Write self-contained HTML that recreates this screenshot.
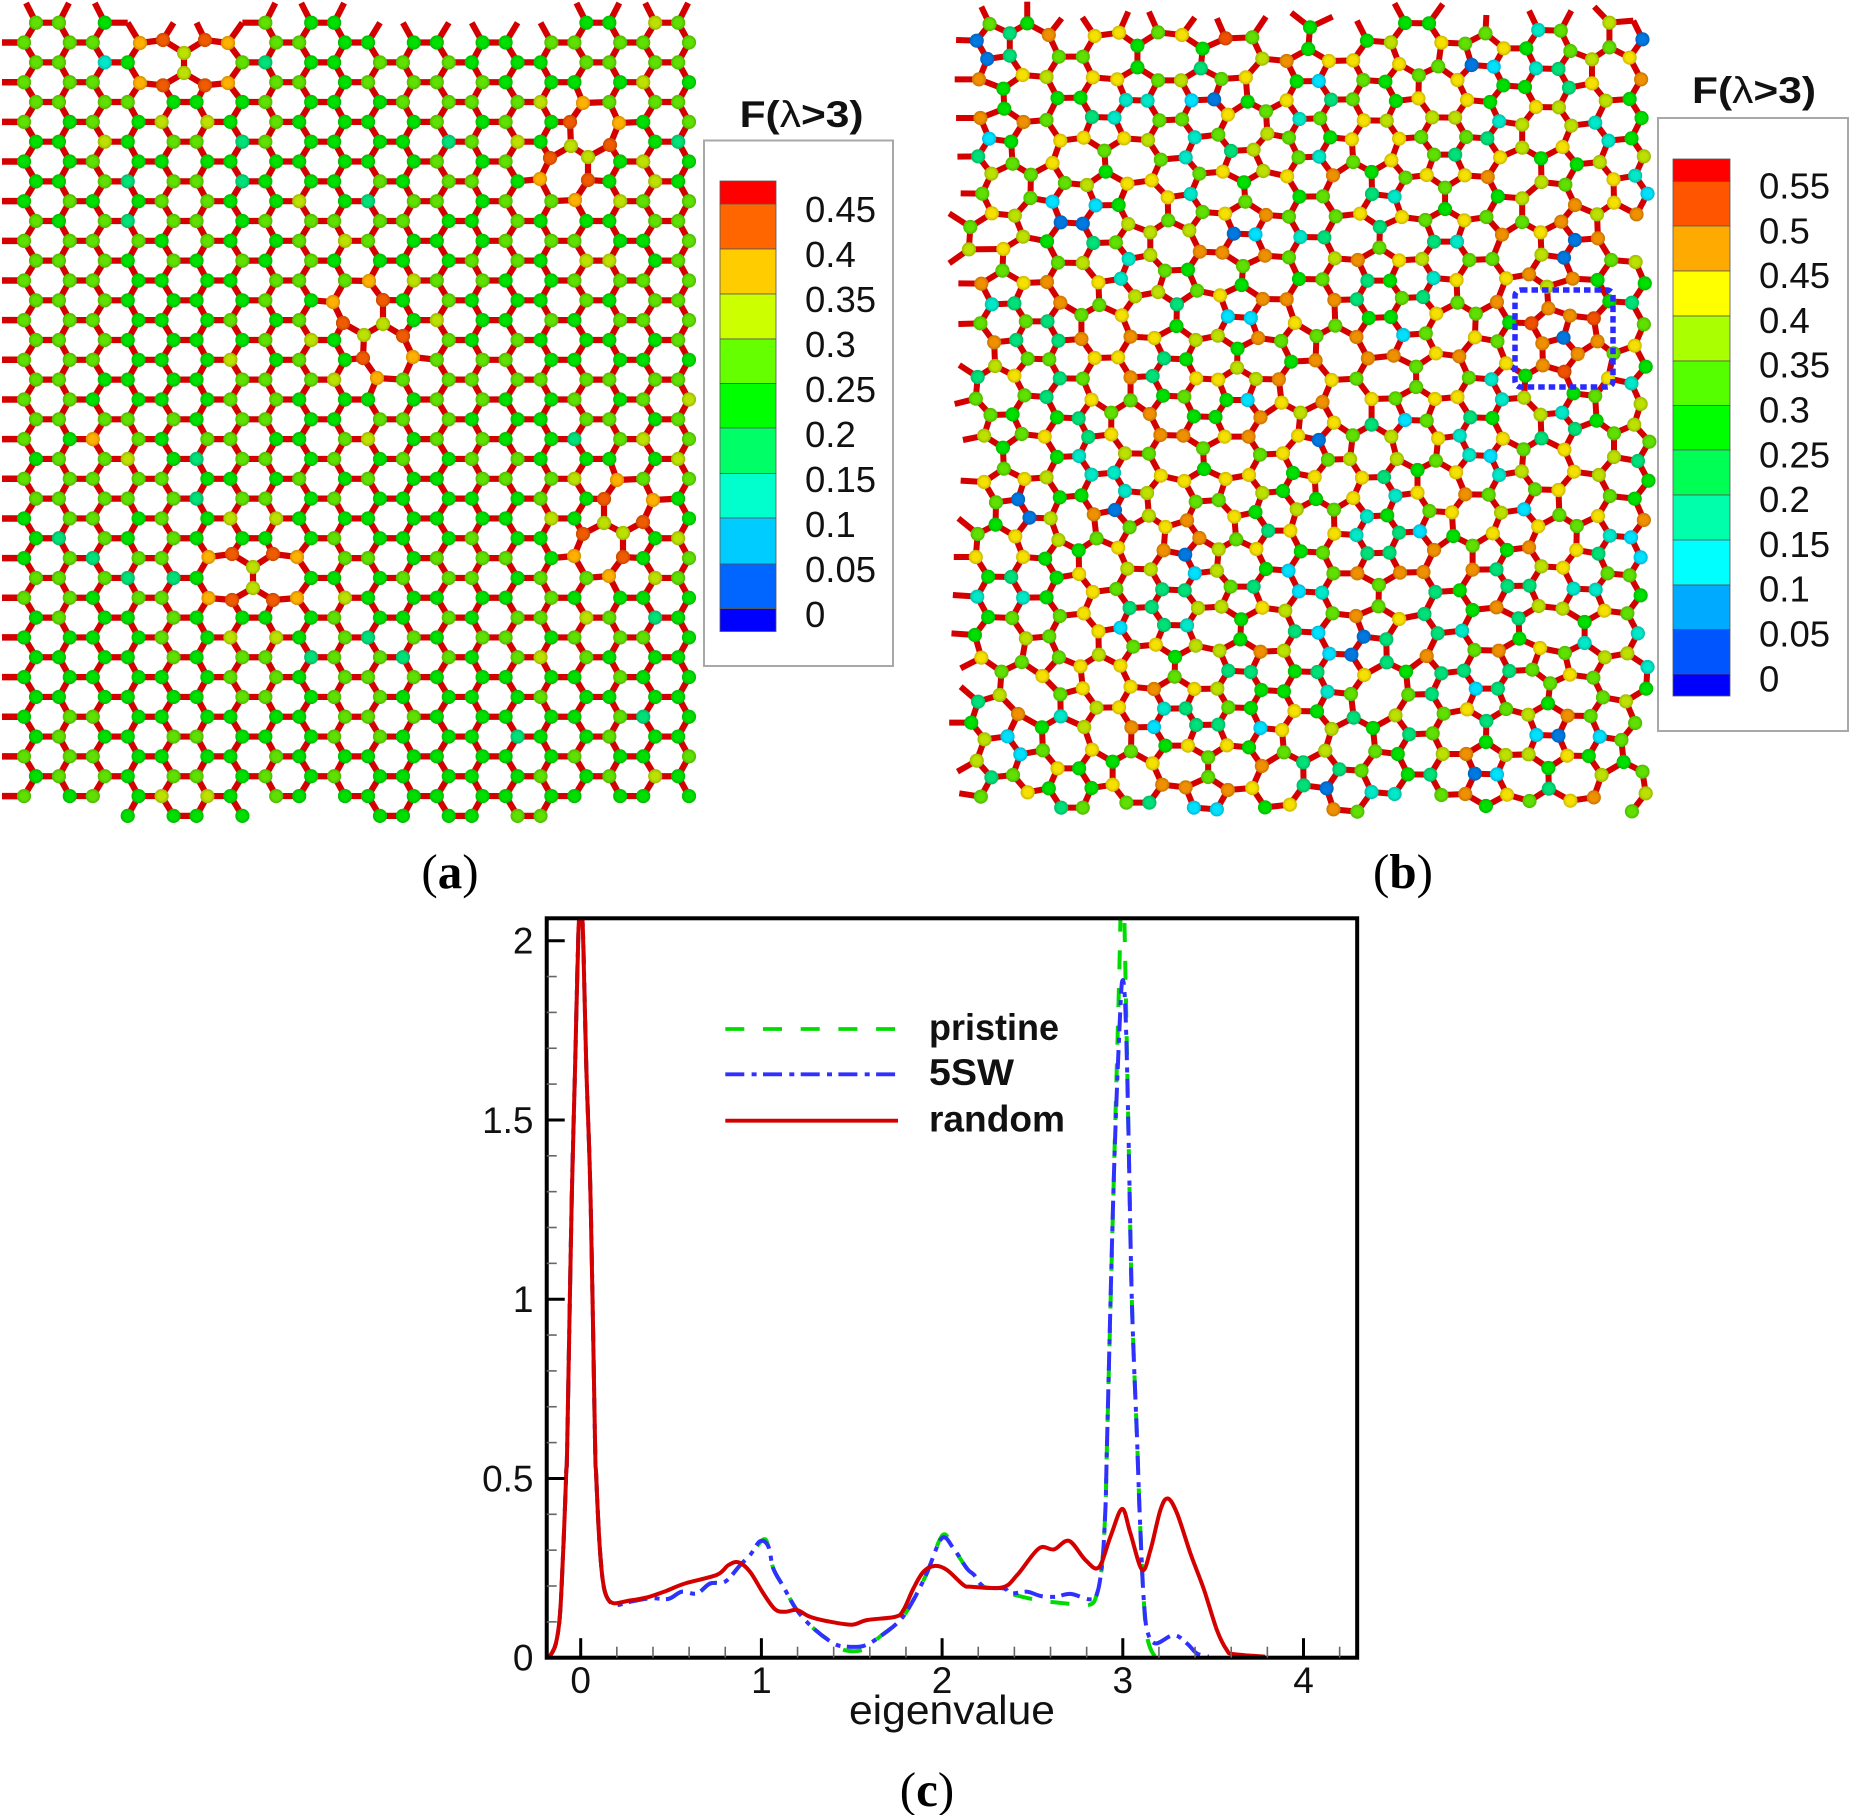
<!DOCTYPE html>
<html lang="en">
<head>
<meta charset="utf-8">
<title>Graphene eigenvalue figure</title>
<style>
html,body{margin:0;padding:0;background:#fff;}
svg{display:block;font-family:"Liberation Sans",sans-serif;}
</style>
</head>
<body>
<svg id="fig" xmlns="http://www.w3.org/2000/svg" width="1849" height="1815" viewBox="0 0 1849 1815">
<defs id="defs"><clipPath id="plotClip"><rect x="546.7" y="918.3" width="810.3" height="739.4"/></clipPath></defs>
<rect x="0" y="0" width="1849" height="1815" fill="#fff"/>
<g id="panelA"></g>
<g id="panelB"></g>
<rect x="1515" y="290" width="98" height="97" rx="6" fill="none" stroke="#2a2aff" stroke-width="5.5" stroke-dasharray="6.5 4"/>
<g id="legendA"></g>
<g id="legendB"></g>
<text x="450" y="888" text-anchor="middle" font-family="'Liberation Serif',serif" font-size="49" fill="#000">(<tspan font-weight="bold">a</tspan>)</text>
<text x="1403" y="888" text-anchor="middle" font-family="'Liberation Serif',serif" font-size="49" fill="#000">(<tspan font-weight="bold">b</tspan>)</text>
<text x="927" y="1806" text-anchor="middle" font-family="'Liberation Serif',serif" font-size="49" fill="#000">(<tspan font-weight="bold">c</tspan>)</text>
<g id="chart"></g>
</svg>
<script>
// ---------- chart data (panel c) ----------
const xTickValues=[0,1,2,3,4];
const yTickValues=[0,0.5,1,1.5,2];
const randomX=[-.188,-.17,-.137,-.114,-.096,-.08,-.074,-.05,-.031,-.013,0,.013,.031,.055,.079,.085,.103,.122,.144,.181,.255,.365,.476,.577,.753,.817,.873,.937,1.011,1.076,1.131,1.196,1.269,1.362,1.5,1.583,1.74,1.786,1.841,1.897,1.961,2.026,2.118,2.158,2.333,2.416,2.536,2.619,2.702,2.794,2.867,2.932,2.996,3.042,3.107,3.153,3.208,3.249,3.3,3.374,3.447,3.521,3.576,3.613,3.788];
const randomV=[0,.005,.04,.124,.31,.514,.607,1.276,1.648,2.02,2.09,2.02,1.648,1.276,.607,.514,.328,.217,.17,.152,.158,.168,.187,.207,.231,.258,.266,.24,.179,.135,.128,.133,.114,.102,.092,.105,.114,.133,.193,.24,.256,.245,.203,.198,.196,.231,.305,.302,.326,.272,.252,.338,.415,.347,.245,.3,.412,.444,.403,.291,.193,.077,.021,.01,.003];
const fiveSWX=[-.188,-.17,-.137,-.114,-.096,-.08,-.074,-.05,-.031,-.013,0,.013,.031,.055,.079,.085,.103,.122,.144,.19,.273,.384,.485,.559,.642,.716,.799,.882,.937,.993,1.039,1.066,1.122,1.196,1.288,1.399,1.472,1.565,1.657,1.768,1.841,1.915,1.998,2.063,2.137,2.177,2.232,2.343,2.379,2.471,2.545,2.628,2.711,2.812,2.855,2.886,2.904,2.913,2.95,2.985,3,3.015,3.03,3.05,3.079,3.092,3.107,3.116,3.134,3.18,3.282,3.355,3.41,3.475];
const fiveSWV=[0,.005,.04,.124,.31,.514,.607,1.276,1.648,2.02,2.09,2.02,1.648,1.276,.607,.514,.328,.217,.17,.147,.156,.166,.164,.184,.179,.207,.212,.258,.286,.325,.31,.249,.198,.133,.082,.04,.031,.033,.059,.105,.161,.235,.333,.305,.249,.231,.198,.193,.179,.184,.172,.17,.178,.163,.175,.263,.421,.607,1.335,1.795,1.89,1.8,1.5,1,.607,.421,.245,.161,.077,.04,.063,.04,.012,.003];
const pristineX=[-.188,-.17,-.137,-.114,-.096,-.08,-.074,-.05,-.031,-.013,0,.013,.031,.055,.079,.085,.103,.122,.144,.19,.273,.384,.485,.559,.642,.716,.799,.882,.937,1.011,1.039,1.066,1.122,1.196,1.288,1.399,1.47,1.565,1.657,1.768,1.841,1.915,2.003,2.063,2.137,2.177,2.232,2.343,2.379,2.527,2.674,2.812,2.855,2.886,2.904,2.913,2.95,2.98,2.99,2.997,3.005,3.015,3.03,3.05,3.079,3.092,3.107,3.116,3.134,3.18,3.25];
const pristineV=[0,.005,.04,.124,.31,.514,.607,1.276,1.648,2.02,2.09,2.02,1.648,1.276,.607,.514,.328,.217,.17,.147,.156,.166,.164,.184,.179,.207,.212,.258,.286,.33,.31,.249,.198,.133,.082,.04,.02,.023,.059,.105,.161,.235,.342,.305,.249,.231,.198,.193,.179,.161,.152,.147,.175,.263,.421,.607,1.335,1.9,2.15,2.3,2.15,1.9,1.5,1,.607,.421,.245,.161,.059,.003,0];

// ---------- legend data ----------
const legendALabels=["0.45","0.4","0.35","0.3","0.25","0.2","0.15","0.1","0.05","0"];
const legendAColors=["#ff0000","#ff6600","#ffcc00","#ccff00","#66ff00","#00ff00","#00ff66","#00ffcc","#00ccff","#0066ff","#0000ff"];
const legendBLabels=["0.55","0.5","0.45","0.4","0.35","0.3","0.25","0.2","0.15","0.1","0.05","0"];
const legendBColors=["#ff0000","#ff5500","#ffaa00","#ffff00","#aaff00","#55ff00","#00ff00","#00ff55","#00ffaa","#00ffff","#00aaff","#0055ff","#0000ff"];

// ---------- lattice colour data ----------
const atomColors={"1":"#0078e0","2":"#00e0ff","3":"#00e8c8","4":"#00e078","5":"#00e000","6":"#5fe000","7":"#bce000","8":"#ffb000","9":"#f05a00","y":"#f5e000","o":"#f09000","r":"#f05000"};
const panelARows=["665....655......5576","66689986655555566666","66357764556665556666","66689986656666555575","66665556555666678666","65657756555565659856","55756646555546757954","55655555555565697575","55646645556566589575","56556655754665668766","65646656666655655566","66665655676555666556","66656565655556657756","66655556668766556666","66655556589565556566","66655565697575565666","66655556757965655556","66655575659866655555","66555566678666666666","66555566555566556567","66666566556665556656","65865665567566554676","56675466565656655557","66666555656556667866","66666466565555565985","56656577555555575795","54656555565556559757","56466899866566658956","66644577555666566876","66566899875555565555","56556555565565667645","55556577564656656665","55556566466465676555","55555566566655555655","55555566566555565555","56655555566655555645","56556655566555455655","66655556555555556556","56656656565555565675","65657756555555555555","---5555---555566----"];
const panelAMoves=[[1,3,140,43],[1,4,163,40],[1,5,205,40],[1,6,228,43],[2,4,184,53],[2,5,184,73],[3,3,140,83],[3,4,163,85.3],[3,5,205,85.3],[3,6,228,83],
[5,16,570,122],[6,16,571,146],[7,15,550,158],[7,16,588,157],[6,17,610,145],[8,16,588,180],[8,15,540,179],[9,16,575,200],[5,17,619,123],[4,16,583,103],
[14,9,333,302],[15,9,343,323],[16,10,364,335],[15,10,383,324],[16,11,403,336],[14,10,383,300],[17,10,363,358],[17,11,413,357],[13,10,369,281],[18,10,377,378],
[24,17,604,499],[25,17,604,523],[26,16,583,534],[26,17,623,533],[25,18,643,522],[27,17,623,557],[24,18,653,500],[23,17,617,480],[27,16,574,556],[28,17,609,576],
[27,5,208.5,557],[27,6,232,554],[27,7,273,554],[27,8,297,557],[28,6,253,567],[28,7,253,588],[29,5,208.5,598],[29,6,232,600],[29,7,273,600],[29,8,297,598]];
const panelARemoved=["2,4|3,4","1,5|2,5","6,16|6,17","7,15|7,16","15,9|15,10","16,10|16,11","25,17|25,18","26,16|26,17","28,6|29,6","27,7|28,7"];
const panelAAdded=[[2,4,1,5],[2,5,3,4],[6,16,7,15],[7,16,6,17],[16,10,15,9],[15,10,16,11],[25,17,26,16],[26,17,25,18],[28,6,27,7],[28,7,29,6]];

const panelBUpper="108,72,6 190,70,5 152,100,4 80,122,1 237,105,o 337,108,y 390,98,y 475,97,6 527,105,y 622,115,r 680,112,6 806,82,5 930,122,5 982,127,7 1013,69,5 1065,70,5 1092,128,y 1144,131,6 1188,100,6 1228,145,y 1277,145,5 1303,90,3 1352,92,6 1373,153,6 1458,68,7 1458,142,6 1530,118,1 1420,178,7 1502,173,y 103,177,1 152,167,4 259,170,6 311,170,6 430,137,5 572,146,5 702,176,7 755,183,o 802,147,5 847,183,y 900,181,y 1000,192,y 1158,195,1 1206,200,2 1298,205,3 1347,207,4 85,238,o 180,225,y 232,231,7 333,232,y 386,238,y 430,202,5 475,241,6 525,241,7 568,205,4 613,237,6 666,232,y 777,244,5 825,243,2 922,240,6 970,245,5 1043,226,6 1085,199,6 1127,240,y 1227,256,5 1274,261,5 1370,263,4 1420,250,y 1527,238,o 138,266,5 256,294,5 306,293,5 405,300,3 452,302,3 548,301,2 597,298,1 670,305,5 755,301,y 852,299,4 899,298,6 993,303,5 1042,295,y 1148,300,y 1198,306,5 1298,321,y 1348,322,7 1450,302,7 1502,297,5 88,354,o 140,326,5 182,366,o 232,360,6 331,351,4 380,353,3 478,361,6 527,358,6 627,344,y 710,334,6 783,357,3 828,355,6 923,361,y 973,362,7 1072,352,7 1122,353,7 1218,364,3 1268,374,7 1375,377,7 1427,368,3 1528,354,5 107,416,2 155,425,5 262,422,y 313,413,y 401,415,y 453,420,7 555,412,3 606,404,6 713,401,7 760,413,6 850,412,5 897,418,y 1000,416,y 1048,411,6 1146,411,6 1192,415,4 1268,443,7 1356,441,y 1456,422,3 1506,415,5 83,469,4 158,491,6 245,489,y 358,452,6 481,479,6 535,472,3 634,453,4 683,449,7 781,472,6 826,470,3 900,486,6 983,481,y 1076,464,6 1122,464,4 1220,472,y 1309,475,5 1387,493,5 1437,486,7 1533,469,7 112,521,7 198,524,6 361,515,5 565,521,6 616,515,y 704,513,7 756,529,y 856,526,o 940,516,5 1014,533,6 1060,525,y 1143,526,y 1193,531,o 1310,546,7 1362,554,6 1467,538,y 1514,527,3 92,581,6 272,549,6 320,555,7 408,551,y 461,541,y 496,592,y 546,582,3 662,547,5 783,590,5 834,589,6 941,582,4 990,590,3 1100,563,6 1215,589,5 1268,595,7 1383,615,o 1468,608,y 1541,581,2 197,594,6 245,605,2 339,616,2 389,615,5 572,636,6 621,641,y 665,605,6 710,645,o 760,650,6 862,649,6 915,641,y 1100,627,5 1006,651,y 1057,660,6 1142,661,y 1190,651,6 1268,666,6 1353,665,o 1431,643,7 1517,643,o 113,640,y 163,647,7 66,681,6 263,667,1 311,671,1 410,672,7 497,661,6 543,691,7 640,701,1 687,703,2 785,711,3 837,712,4 958,681,4 1224,704,o 1308,697,y 1383,720,1 1433,715,o 181,710,7 233,724,5 334,729,4 383,727,6 458,697,7 1076,725,4 1126,725,3 63,748,7 138,747,y 257,788,6 311,789,7 411,777,3 458,765,7 566,755,o 615,758,o 708,767,o 760,772,6 860,775,7 910,780,o 957,743,6 1000,781,y 1050,777,7 1153,780,6 1203,777,6 1310,764,7 1359,773,1 1462,780,6 1515,786,7 136,812,6 90,851,o 182,849,y 233,846,o 345,847,y 394,836,3 490,812,6 540,809,5 660,798,6 657,855,5 782,837,5 833,838,6 931,842,4 980,842,5 1075,834,3 1125,840,y 1233,835,y 1283,823,o 1378,836,o 1432,840,5 1535,850,5 113,913,3 162,910,4 262,908,o 347,915,6 425,889,7 475,876,7 560,872,6 610,886,y 703,897,o 755,898,o 859,900,o 908,898,4 1006,894,6 1052,891,4 1127,908,6 1213,906,o 1322,860,7 1458,904,5 1507,908,4 88,970,6 187,964,6 234,964,4 308,945,6 396,946,y 516,913,4 627,949,2 677,954,2 773,969,y 861,977,6 934,954,5 982,951,5 1081,941,y 1167,941,6 1240,967,5 1325,925,o 1372,947,o 1424,955,r 1288,970,r 1533,973,6 118,1027,o 166,1020,4 258,1022,4 308,1017,o 415,1010,o 467,1014,y 515,978,5 557,1020,7 605,1007,7 693,1014,o 743,1023,6 820,1008,6 907,1011,o 1009,1005,2 1058,1000,6 1165,1012,y 1214,1024,6 1312,1030,o 1358,1013,1 1432,1024,o 1513,1037,y 120,1098,7 191,1076,6 238,1078,6 337,1074,y 388,1072,y 488,1075,4 536,1078,5 648,1046,5 647,1103,7 765,1085,5 818,1081,o 932,1075,o 988,1067,o 1080,1060,y 1131,1069,o 1037,1100,6 1233,1090,y 1313,1096,o 1389,1062,o 1467,1060,6 1537,1100,5 1360,1115,r 82,1131,4 162,1127,y 261,1135,4 311,1136,6 415,1132,o 463,1128,4 558,1135,y 606,1139,y 688,1137,7 738,1138,o 853,1140,y 907,1136,6 1037,1161,6 1152,1133,6 1201,1138,3 1275,1127,5 1455,1135,y 1506,1150,3 78,1196,6 184,1186,6 232,1191,4 330,1199,y 415,1201,6 486,1187,5 532,1190,6 624,1200,5 670,1200,2 744,1208,y 833,1206,o 940,1197,y 992,1195,6 1078,1197,y 1127,1191,y 1224,1198,3 1272,1193,7 1380,1180,5 1427,1188,6 1526,1212,7";
const panelBLower="110,15,6 158,13,5 255,22,5 302,25,4 373,8,6 457,12,o 553,19,5 600,21,5 698,22,o 785,8,7 858,38,y 940,44,4 1013,30,2 1060,32,6 1155,22,4 1203,24,5 1308,14,7 1355,8,3 1430,32,5 1512,44,7 96,77,7 178,72,6 228,80,y 323,81,4 373,73,y 480,75,o 530,77,o 620,80,y 672,80,o 780,77,y 825,90,1 899,76,6 983,80,7 1085,85,y 1132,77,3 1226,86,y 1310,85,4 1383,57,4 1468,70,6 1545,95,6 137,113,5 255,141,5 303,138,3 403,130,7 455,131,6 573,115,6 697,134,6 747,130,y 845,149,6 893,147,7 995,147,7 1080,152,6 1153,135,3 1199,138,2 1271,118,6 1360,119,y 1468,141,7 1520,153,4 139,176,6 96,216,y 184,207,y 232,202,7 330,194,3 379,188,3 481,197,y 532,213,y 575,177,5 622,207,y 673,195,y 769,189,5 816,201,y 919,203,y 967,201,4 1040,180,5 1124,187,y 1218,195,3 1267,184,7 1381,185,y 1435,195,7 1543,212,5 122,277,6 170,268,1 261,262,5 308,256,5 403,243,3 451,249,7 557,275,6 607,270,6 702,249,7 747,243,5 819,267,5 900,264,y 992,257,3 1040,248,y 1144,253,o 1195,254,6 1296,238,6 1347,240,y 1459,258,6 1513,266,5 121,344,5 195,323,1 241,325,7 335,313,o 381,300,1 455,317,7 538,331,o 641,320,y 687,306,5 777,298,7 858,299,6 930,319,3 974,316,5 1066,303,6 1115,307,y 1222,308,7 1272,298,2 1349,315,6 1433,318,y 1533,330,o 82,372,6 164,379,y 258,390,7 341,385,6 413,352,6 491,351,y 565,384,o 645,388,6 715,362,4 763,362,y 859,371,y 907,375,3 1000,368,4 1045,364,2 1118,378,5 1204,370,y 1303,349,y 1387,348,6 1459,377,3 1505,382,2 78,441,y 181,441,y 229,446,5 302,421,5 388,413,y 487,421,o 534,434,1 607,418,7 689,417,y 786,424,5 834,428,6 931,430,4 979,428,4 1076,420,o 1160,407,6 1235,420,5 1283,412,o 1386,420,y 1434,431,4 1526,442,2 105,500,5 155,501,4 254,503,5 303,492,y 408,476,7 459,478,7 555,490,2 603,482,7 710,477,5 759,482,2 857,490,6 909,490,o 1002,488,o 1053,486,o 1160,479,o 1212,478,4 1310,469,7 1357,473,y 1454,490,6 1502,496,6 81,560,3 181,563,3 232,562,5 333,546,y 384,537,6 484,538,4 533,541,4 633,530,6 683,530,4 782,544,2 832,548,3 956,525,6 1079,546,4 1132,541,5 1236,528,4 1284,527,4 1380,536,3 1428,539,3 1526,556,5 105,621,5 157,624,6 261,618,6 313,610,y 413,594,4 461,591,4 562,594,7 613,590,7 702,593,y 752,602,7 855,610,6 906,618,o 955,589,6 1000,627,y 1055,612,4 1160,600,5 1212,592,o 1304,588,7 1356,596,7 1447,602,y 1497,610,6 76,675,5 187,685,7 238,679,6 345,664,y 393,653,2 488,645,4 538,646,3 656,628,5 773,664,4 824,668,2 1084,670,4 1137,662,3 1260,625,4 1404,636,5 1520,670,3 90,743,y 178,756,6 259,742,6 346,734,7 421,710,6 470,704,y 557,707,7 609,722,7 654,688,5 698,725,o 749,722,7 923,680,1 972,688,4 1164,720,6 1217,722,o 1262,686,5 1307,714,y 1361,729,6 1404,699,3 1448,742,7 1497,730,7 134,785,6 223,798,y 306,769,y 393,767,y 512,741,5 628,782,4 677,786,4 773,784,5 822,786,4 848,731,2 896,734,1 973,757,4 1060,738,o 1015,785,5 1092,790,4 1141,782,4 1240,783,4 1290,779,6 1372,794,y 1423,803,6 1541,771,3 83,875,4 130,855,7 262,853,6 311,835,y 415,830,y 466,837,o 511,800,6 554,837,y 604,836,7 700,840,5 749,844,5 844,845,3 895,852,6 924,795,y 1020,854,6 1071,852,4 1167,836,2 1215,836,4 1329,820,6 1444,862,6 1494,874,7 1538,836,5 68,938,5 170,912,o 263,919,3 341,893,7 390,892,y 488,896,3 535,895,4 628,892,6 677,894,5 772,903,y 821,904,5 901,923,4 992,916,7 1097,911,6 1148,898,y 1233,897,6 1281,914,7 1324,880,5 1367,917,o 1417,918,6 1514,939,6 222,952,5 314,951,7 417,952,o 466,951,2 558,945,4 606,944,4 698,954,2 745,960,y 853,957,7 943,954,5 1022,973,4 1073,970,6 1190,933,4 1299,975,2 1347,977,1 1437,980,2 1484,990,6 97,988,7 147,979,2 224,1021,6 175,1033,2 331,1019,y 416,1024,6 491,1007,5 540,1007,y 625,1006,y 673,1012,5 749,1027,6 839,1022,7 948,1024,6 997,1032,5 1095,1032,7 1146,1032,o 1189,996,5 1232,1035,7 1282,1033,7 1366,1037,y 1413,1038,5 1489,1056,5 80,1052,7 159,1095,6 112,1102,4 256,1075,y 303,1075,5 376,1055,5 463,1060,y 584,1042,6 701,1068,o 791,1057,4 870,1078,4 918,1082,6 1019,1093,5 1068,1094,4 1165,1091,1 1213,1093,2 1325,1074,5 1441,1095,7 1530,1085,6 89,1160,6 191,1147,y 237,1135,5 330,1134,5 376,1124,y 484,1124,o 535,1132,o 584,1101,6 627,1140,o 680,1134,y 792,1126,4 842,1135,1 940,1146,3 990,1152,3 1092,1155,6 1144,1152,o 1235,1154,y 1284,1173,6 1326,1136,4 1373,1172,y 1424,1162,o 1537,1150,7 264,1193,4 311,1193,6 406,1178,6 456,1178,4 553,1193,2 603,1198,2 708,1192,5 762,1184,y 857,1198,o 909,1205,6 1189,1188,5 1507,1204,6";
const panelBUpperStubs=[[108,72,90,20],[190,70,190,5],[265,55,237,105],[337,108,310,52],[390,98,410,35],[475,97,455,35],[527,105,555,52],[622,115,603,55],[680,112,710,50],[806,82,765,38],[806,82,855,50],[930,122,908,62],[1013,69,990,10],[1065,70,1095,12],[1188,100,1190,45],[1303,90,1283,32],[1352,92,1375,32],[1458,68,1425,20],[1458,68,1510,62],[1510,62,1530,118],[80,122,35,120],[85,238,32,238],[88,354,35,354],[83,469,38,470],[92,581,45,580],[66,681,20,640],[63,748,138,747],[63,748,20,790],[90,851,40,850],[88,970,40,972],[82,1131,42,1095],[78,1196,32,1212]];
const panelBLowerStubs=[[96,77,50,90],[96,216,45,212],[81,560,28,555],[76,675,25,670],[78,441,30,441],[82,372,40,325],[90,743,45,775],[83,875,45,830],[68,938,20,938],[80,1052,38,1085],[89,1160,42,1150]];

// ---------- helpers ----------
const NS="http://www.w3.org/2000/svg";
const svgEl=(tag,parent)=>{const e=document.createElementNS(NS,tag);parent.appendChild(e);return e;};
const setAll=(e,o)=>{for(const k in o)e.setAttribute(k,o[k]);return e;};
const defs=document.getElementById("defs");
function shade(hex,f){const n=parseInt(hex.slice(1),16);const c=[n>>16,(n>>8)&255,n&255].map(v=>Math.round(v*f));return "rgb("+c.join(",")+")";}
for(const key in atomColors){
  const g=svgEl("radialGradient",defs);
  g.setAttribute("id","atom"+key);
  const a=svgEl("stop",g);setAll(a,{offset:"0.55","stop-color":atomColors[key]});
  const b=svgEl("stop",g);setAll(b,{offset:"1","stop-color":shade(atomColors[key],0.82)});
}
function drawBond(parent,x1,y1,x2,y2,w){
  const l=svgEl("line",parent);
  
  
  setAll(l,{x1:x1,y1:y1,x2:x2,y2:y2,stroke:"#d40000","stroke-width":w,"stroke-linecap":"butt"});
}
function drawAtom(parent,x,y,c){
  const a=svgEl("circle",parent);
  
  
  setAll(a,{cx:x,cy:y,r:7.1,fill:"url(#atom"+c+")"});
}

// ---------- panel a: honeycomb lattice ----------
(function(){
  const g=document.getElementById("panelA");
  const period=68.8,bond=22.93;
  const moved={};
  panelAMoves.forEach(m=>{moved[m[0]+","+m[1]]=[m[2],m[3]];});
  const pos=(r,i)=>{
    const mv=moved[r+","+i];
    if(mv)return mv;
    const y=22.7+r*19.83;
    let x;
    if(r%2===0)x=36+period*Math.floor(i/2)+(i%2)*bond;
    else x=(i%2)?1+period*(i+1)/2:24+period*i/2;
    return [x,y];
  };
  const code=(r,i)=>panelARows[r]?panelARows[r][i]:"-";
  const removed=new Set(panelARemoved);
  const link=(r1,i1,r2,i2)=>{
    const a=code(r1,i1),b=code(r2,i2);
    if(a==="-"||b==="-"||a===undefined||b===undefined)return;
    if(a==="."&&b===".")return;
    const k1=r1+","+i1+"|"+r2+","+i2,k2=r2+","+i2+"|"+r1+","+i1;
    if(removed.has(k1)||removed.has(k2))return;
    const p=pos(r1,i1),q=pos(r2,i2);
    drawBond(g,p[0],p[1],q[0],q[1],6.2);
  };
  panelARows.forEach((row,r)=>{
    for(let i=0;i<20;i++){
      if(r%2===0){
        if(i%2===0)link(r,i,r,i+1);
        link(r,i,r+1,i);
        if(r>0)link(r,i,r-1,i);
      }else if(i%2===1&&i<19){
        link(r,i,r,i+1);
      }
    }
    if(r%2===1){const p=pos(r,0);drawBond(g,2,p[1],p[0],p[1],6.5);}
  });
  panelAAdded.forEach(b=>{const p=pos(b[0],b[1]),q=pos(b[2],b[3]);drawBond(g,p[0],p[1],q[0],q[1],6.2);});
  for(let i=0;i<20;i++){
    const c=code(0,i);
    if(c==="."||c==="-")continue;
    const p=pos(0,i);
    drawBond(g,p[0],p[1],p[0]+(i%2?10:-10),3,6.2);
  }
  panelARows.forEach((row,r)=>{
    for(let i=0;i<20;i++){
      const c=row[i];
      if(c==="."||c==="-")continue;
      const p=pos(r,i);
      drawAtom(g,p[0],p[1],c);
    }
  });
})();

// ---------- panel b: disordered network ----------
(function(){
  const g=document.getElementById("panelB");
  const sx=px=>940+px/2.178;
  const atoms=[];
  const parse=(s,y0)=>s.split(" ").forEach(t=>{
    const p=t.split(",");
    atoms.push({x:sx(+p[0]),y:y0+(+p[1])/3,c:p[2]});
  });
  parse(panelBUpper,0);
  parse(panelBLower,410);
  const cut=33;
  const near=atoms.map((a,i)=>atoms.map((b,j)=>({j:j,d:Math.hypot(a.x-b.x,a.y-b.y)})).filter(o=>o.j!==i&&o.d<cut).sort((p,q)=>p.d-q.d).slice(0,3).map(o=>o.j));
  atoms.forEach((a,i)=>{
    near[i].forEach(j=>{
      if(j>i&&near[j].indexOf(i)>=0)drawBond(g,a.x,a.y,atoms[j].x,atoms[j].y,6);
    });
  });
  panelBUpperStubs.forEach(s=>drawBond(g,sx(s[0]),s[1]/3,sx(s[2]),s[3]/3,6));
  panelBLowerStubs.forEach(s=>drawBond(g,sx(s[0]),410+s[1]/3,sx(s[2]),410+s[3]/3,6));
  atoms.forEach(a=>drawAtom(g,a.x,a.y,a.c));
})();

// ---------- legends ----------
function buildLegend(id,box,bar,title,labels,colors,labelX,firstLabelY,labelStep,bands){
  const g=document.getElementById(id);
  const frame=svgEl("rect",g);
  
  
  setAll(frame,{x:box[0],y:box[1],width:box[2],height:box[3],fill:"#fff",stroke:"#a8a8a8","stroke-width":2});
  const tt=svgEl("text",g);
  
  
  setAll(tt,{x:title[0],y:title[1],"text-anchor":"middle","font-size":37,"font-weight":"bold",fill:"#111",textLength:124,lengthAdjust:"spacingAndGlyphs"});
  tt.appendChild(document.createTextNode("F("));
  const ts=svgEl("tspan",tt);ts.setAttribute("font-weight","normal");ts.textContent="λ";
  tt.appendChild(document.createTextNode(">3)"));
  colors.forEach((c,i)=>{
    const r=svgEl("rect",g);
    
    
    setAll(r,{x:bar[0],y:bands[i],width:bar[1],height:bands[i+1]-bands[i],fill:c,stroke:"#555","stroke-width":0.8});
  });
  labels.forEach((t,i)=>{
    const l=svgEl("text",g);
    
    
    setAll(l,{x:labelX,y:firstLabelY+i*labelStep+12.5,"font-size":36.5,fill:"#111"});
    l.textContent=t;
  });
}
buildLegend("legendA",[704,140.5,189,525.5],[720,56],[801.6,127],legendALabels,legendAColors,805,209.3,45,[181,204,249,294,339,383.5,428,473.5,518,564,608.6,631.5]);
buildLegend("legendB",[1658,118,190,613],[1673,57],[1754,103],legendBLabels,legendBColors,1759,186,44.8,[159,181.5,226,271,316,361,405.5,450,495,540,585,629.5,674,696]);

// ---------- chart ----------
(function(){
  const g=document.getElementById("chart");
  const xS=l=>580.7+180.7*l;
  const yS=v=>1657.7-358.5*v;
  const left=xS(-0.188),right=xS(4.297),bottom=yS(0),top=yS(2.0625);
  function curve(xs,vs){
    const p=xs.map((x,i)=>[xS(x),yS(vs[i])]);
    let d="M"+p[0][0].toFixed(1)+" "+p[0][1].toFixed(1);
    for(let i=0;i<p.length-1;i++){
      const a=p[i-1]||p[i],b=p[i],c=p[i+1],e=p[i+2]||c;
      d+=" C"+(b[0]+(c[0]-a[0])/6).toFixed(1)+" "+(b[1]+(c[1]-a[1])/6).toFixed(1)+" "+(c[0]-(e[0]-b[0])/6).toFixed(1)+" "+(c[1]-(e[1]-b[1])/6).toFixed(1)+" "+c[0].toFixed(1)+" "+c[1].toFixed(1);
    }
    return d;
  }
  const green=svgEl("path",g);
  
  
  setAll(green,{d:curve(pristineX,pristineV),fill:"none",stroke:"#00dc00","stroke-width":4,"stroke-dasharray":"19 18.7","clip-path":"url(#plotClip)"});
  const blue=svgEl("path",g);
  
  
  setAll(blue,{d:curve(fiveSWX,fiveSWV),fill:"none",stroke:"#3030ff","stroke-width":4,"stroke-dasharray":"19 7.3 5 6.4","clip-path":"url(#plotClip)"});
  const red=svgEl("path",g);
  
  
  setAll(red,{d:curve(randomX,randomV),fill:"none",stroke:"#d40000","stroke-width":4,"clip-path":"url(#plotClip)"});

  const frame=svgEl("rect",g);
  
  
  setAll(frame,{x:left,y:top,width:right-left,height:bottom-top,fill:"none",stroke:"#000","stroke-width":4});

  const tick=(x1,y1,x2,y2,major)=>{
    const l=svgEl("line",g);
    
    
    setAll(l,{x1:x1,y1:y1,x2:x2,y2:y2,stroke:major?"#000":"#666","stroke-width":major?3:1.6});
  };
  for(let k=0;k<=21;k++){
    const l=k/5;
    const major=k%5===0;
    tick(xS(l),bottom,xS(l),bottom-(major?19.5:11),major);
  }
  for(let k=0;k<=20;k++){
    const v=k/10;
    const major=k%5===0;
    tick(left,yS(v),left+(major?18:10),yS(v),major);
  }
  xTickValues.forEach(v=>{
    const t=svgEl("text",g);
    
    
    setAll(t,{x:xS(v),y:1693,"text-anchor":"middle","font-size":37,fill:"#111"});
    t.textContent=String(v);
  });
  yTickValues.forEach(v=>{
    const t=svgEl("text",g);
    
    
    setAll(t,{x:533.5,y:yS(v)+13,"text-anchor":"end","font-size":37,fill:"#111"});
    t.textContent=String(v);
  });
  const xt=svgEl("text",g);
  
  
  setAll(xt,{x:952,y:1724,"text-anchor":"middle","font-size":41,fill:"#111",textLength:206,lengthAdjust:"spacingAndGlyphs"});
  xt.textContent="eigenvalue";

  const legendNames=["pristine","5SW","random"];
  const legendStrokes=["#00dc00","#3030ff","#d40000"];
  const legendDashes=["19 18.7","19 7.3 5 6.4","none"];
  const legendLineY=[1029,1074.3,1120.7];
  const legendTextY=[1040,1085,1131.7];
  const legendTextWidths=[130,85,136];
  legendNames.forEach((n,i)=>{
    const l=svgEl("line",g);
    
    
    setAll(l,{x1:725.3,x2:i===2?898:896.7,y1:legendLineY[i],y2:legendLineY[i],stroke:legendStrokes[i],"stroke-width":3.8,"stroke-dasharray":legendDashes[i]});
    const t=svgEl("text",g);
    
    
    setAll(t,{x:929,y:legendTextY[i],"font-size":37,"font-weight":"bold",fill:"#111",textLength:legendTextWidths[i],lengthAdjust:"spacingAndGlyphs"});
    t.textContent=n;
  });
})();
</script>
</body>
</html>
